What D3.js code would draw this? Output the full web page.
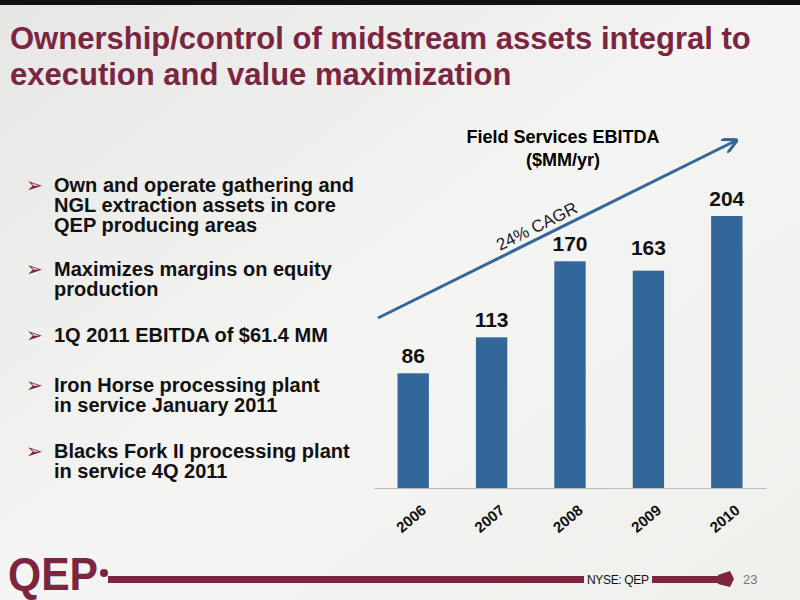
<!DOCTYPE html>
<meta charset="utf-8">
<title>Field Services EBITDA</title>
<style>
body { margin:0; }
svg { font-family: "Liberation Sans", Arial, sans-serif; display:block; }
</style>
<body>
<script src="https://cdn.jsdelivr.net/npm/d3@7"></script>
<script>

var years = ["2006", "2007", "2008", "2009", "2010"];
var ebitda = [86, 113, 170, 163, 204];
var bullets = [
	["Own and operate gathering and", "NGL extraction assets in core", "QEP producing areas"],
	["Maximizes margins on equity", "production"],
	["1Q 2011 EBITDA of $61.4 MM"],
	["Iron Horse processing plant", "in service January 2011"],
	["Blacks Fork II processing plant", "in service 4Q 2011"]
];

var maroon = "#7b2540", blue = "#336699";

var svg = d3.select("body").append("svg").attr("width", 800).attr("height", 600);

var defs = svg.append("defs");
var g = defs.append("linearGradient").attr("id", "bg").attr("x1", 0).attr("y1", 0).attr("x2", 1).attr("y2", 1);
g.append("stop").attr("offset", 0).attr("stop-color", "#e6e6e4");
g.append("stop").attr("offset", 0.5).attr("stop-color", "#f4f4f2");
g.append("stop").attr("offset", 1).attr("stop-color", "#efefec");
defs.append("marker").attr("id", "arr").attr("viewBox", "0 0 10 10").attr("refX", 8).attr("refY", 5)
	.attr("markerWidth", 5).attr("markerHeight", 5).attr("orient", "auto")
	.append("path").attr("d", "M0,0 L10,5 L0,10").attr("fill", "none").attr("stroke", blue).attr("stroke-width", 2);

svg.append("rect").attr("width", 800).attr("height", 600).attr("fill", "url(#bg)");
svg.append("rect").attr("width", 800).attr("height", 5).attr("fill", "#111");

// title
svg.append("text").attr("x", 10).attr("y", 49).attr("fill", maroon).attr("font-size", 31).attr("font-weight", "bold")
	.text("Ownership/control of midstream assets integral to");
svg.append("text").attr("x", 10).attr("y", 85).attr("fill", maroon).attr("font-size", 31).attr("font-weight", "bold")
	.text("execution and value maximization");

// bullets
var by = [192, 276, 342, 392, 458];
bullets.forEach(function(b, i) {
	svg.append("text").attr("x", 26).attr("y", by[i]).attr("font-size", 20).attr("fill", maroon).text("\u27A2");
	b.forEach(function(line, j) {
		svg.append("text").attr("x", 54).attr("y", by[i] + j * 20).attr("font-size", 20)
			.attr("font-weight", "bold").attr("fill", "#111").text(line);
	});
});

// chart
var x = d3.scaleBand().domain(years).range([374, 766]).paddingInner(0.6).paddingOuter(0.3);
var y = d3.scaleLinear().domain([0, 204]).range([488, 216]);

svg.append("text").attr("x", 563).attr("y", 143).attr("text-anchor", "middle").attr("font-size", 18).attr("font-weight", "bold").text("Field Services EBITDA");
svg.append("text").attr("x", 563).attr("y", 166).attr("text-anchor", "middle").attr("font-size", 18).attr("font-weight", "bold").text("($MM/yr)");

svg.selectAll(".bar").data(ebitda).enter().append("rect")
	.attr("x", function(d, i) { return x(years[i]); })
	.attr("width", x.bandwidth())
	.attr("y", function(d) { return y(d); })
	.attr("height", function(d) { return y(0) - y(d); })
	.attr("fill", blue);

svg.selectAll(".lab").data(ebitda).enter().append("text")
	.attr("x", function(d, i) { return x(years[i]) + x.bandwidth() / 2; })
	.attr("y", function(d, i) { return y(d) - (i == 3 ? 16 : 10); })
	.attr("text-anchor", "middle").attr("font-size", 21).attr("font-weight", "bold").attr("fill", "#111")
	.text(function(d) { return d; });

var ax = svg.append("g").attr("transform", "translate(0,488)")
	.call(d3.axisBottom(x).tickSize(0).tickPadding(0));
ax.select(".domain").attr("stroke", "#bbb");
ax.selectAll("text").attr("font-size", 15).attr("font-weight", "bold").attr("fill", "#111")
	.attr("font-family", "Liberation Sans, Arial, sans-serif")
	.attr("text-anchor", "end").attr("dy", 0)
	.attr("transform", "translate(14,24) rotate(-40)");

svg.append("line").attr("x1", 378).attr("y1", 318).attr("x2", 735).attr("y2", 141)
	.attr("stroke", blue).attr("stroke-width", 3).attr("marker-end", "url(#arr)");
svg.append("text").attr("transform", "translate(500,251) rotate(-26.5)").attr("font-size", 17).attr("fill", "#222").text("24% CAGR");

// footer
svg.append("rect").attr("x", 108).attr("y", 576).attr("width", 476).attr("height", 7).attr("fill", maroon);
svg.append("text").attr("x", 587).attr("y", 584).attr("font-size", 12).attr("fill", "#111").attr("textLength", 62).text("NYSE: QEP");
svg.append("rect").attr("x", 652).attr("y", 576).attr("width", 66).attr("height", 7).attr("fill", maroon);
svg.append("path").attr("d", "M718,575 L730,571 L734,579 L730,587 L718,584 Z").attr("fill", maroon);
svg.append("text").attr("x", 743).attr("y", 584).attr("font-size", 13).attr("fill", "#777").text("23");
svg.append("text").attr("x", 8).attr("y", 590).attr("font-size", 46).attr("font-weight", "bold").attr("fill", maroon)
	.attr("font-family", "Liberation Sans Narrow, Arial Narrow, sans-serif").attr("textLength", 90).attr("lengthAdjust", "spacingAndGlyphs").text("QEP");
svg.append("circle").attr("cx", 104).attr("cy", 573).attr("r", 4).attr("fill", maroon);
</script>
</body>
</html>
